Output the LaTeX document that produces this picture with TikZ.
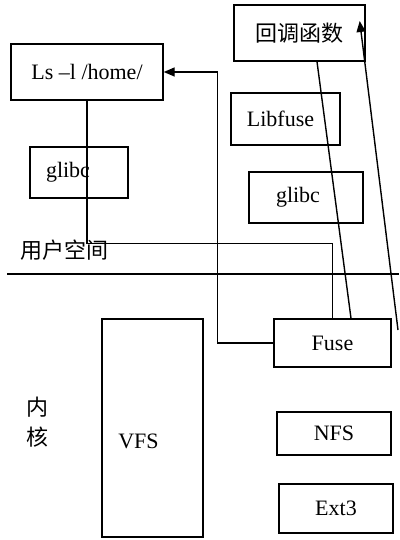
\documentclass[tikz,border=0pt]{standalone}
\usepackage{fontspec}
\setmainfont{Liberation Serif}
\newfontfamily\cjk{Noto Sans CJK SC}
\usepackage{tikz}
\usetikzlibrary{arrows.meta,positioning}
\tikzset{
  base/.style={font=\fontsize{22pt}{30pt}\selectfont, align=center, inner sep=0pt, text=black},
  box/.style={base, rectangle, draw=black, fill=white, line width=1.4pt},
  lbl/.style={base},
  line/.style={line width=1.4pt, draw=black},
  arr/.style={line, -{Triangle[length=11pt,width=9pt]}},
}
\begin{document}
\begin{tikzpicture}[x=1pt,y=-1pt]
  \useasboundingbox[fill=white] (0,0) rectangle (399,540);
  % user space
  \node[box,minimum width=152pt,minimum height=56pt] (ls) at (87,72) {Ls --l /home/};
  \node[box,minimum width=98pt,minimum height=51pt,label={[base,xshift=-11pt]center:glibc}] (glibcu) at (79,172.5) {};
  \node[box,minimum width=131pt,minimum height=56pt] (cb) at (299.5,33) {\cjk 回调函数};
  \node[box,minimum width=109pt,minimum height=52pt,label={[base,xshift=-5pt]center:Libfuse}] (libfuse) at (285.5,119) {};
  \node[box,minimum width=114pt,minimum height=51pt,label={[base,xshift=-8pt]center:glibc}] (glibck) at (306,197.5) {};
  \node[lbl,anchor=west] (user) at (20,250) {\cjk 用户空间};
  % divider
  \coordinate (divl) at (7,274);
  \coordinate (divr) at (399,274);
  \draw[line] (divl) -- (divr);
  % kernel
  \node[lbl] (kern) at (37.5,422) {\cjk 内\\\cjk 核};
  \node[box,minimum width=101pt,minimum height=218pt,label={[base,xshift=-14pt,yshift=-13pt]center:VFS}] (vfs) at (152.5,428) {};
  \node[box,minimum width=117pt,minimum height=48pt] (fuse) at (332.5,343) {Fuse};
  \node[box,minimum width=114pt,minimum height=43pt] (nfs) at (334,433.5) {NFS};
  \node[box,minimum width=114pt,minimum height=49pt] (ext3) at (336,508.5) {Ext3};
  % call path
  \draw[line] (ls.south) -- ++(0,143) -| (fuse.north);
  \draw[arr] (fuse.west) -- ++(-56,0) |- (ls.east);
  \draw[line] ([xshift=17.5pt]cb.south) -- ([xshift=18.5pt]fuse.north);
  \coordinate (kin) at (398,330);
  \draw[arr] (kin) -- ([xshift=-6pt,yshift=12pt]cb.east);
\end{tikzpicture}
\end{document}
